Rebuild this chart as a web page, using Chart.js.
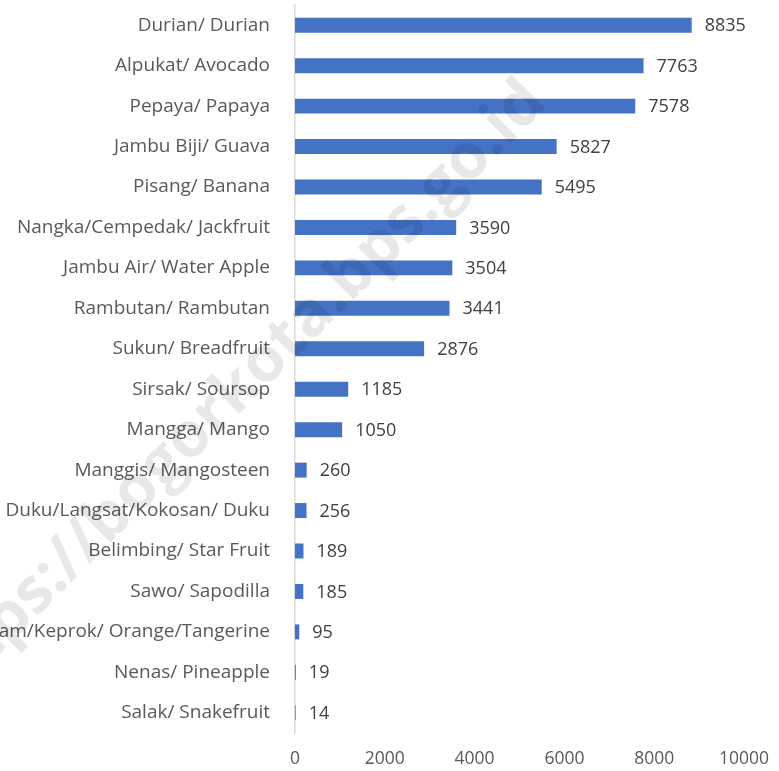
<!DOCTYPE html>
<html>
<head>
<meta charset="utf-8">
<script src="https://cdn.jsdelivr.net/npm/chart.js@4"></script>
<style>
  html, body { margin: 0; padding: 0; background: #fff; }
  #wrap { width: 779px; height: 771px; }
</style>
</head>
<body>
<div id="wrap"><canvas id="myChart"></canvas></div>
<script>
// data
const fruits = [
  'Durian/ Durian', 'Alpukat/ Avocado', 'Pepaya/ Papaya', 'Jambu Biji/ Guava',
  'Pisang/ Banana', 'Nangka/Cempedak/ Jackfruit', 'Jambu Air/ Water Apple',
  'Rambutan/ Rambutan', 'Sukun/ Breadfruit', 'Sirsak/ Soursop', 'Mangga/ Mango',
  'Manggis/ Mangosteen', 'Duku/Langsat/Kokosan/ Duku', 'Belimbing/ Star Fruit',
  'Sawo/ Sapodilla', 'Jeruk Siam/Keprok/ Orange/Tangerine', 'Nenas/ Pineapple',
  'Salak/ Snakefruit'
];
const production = [8835, 7763, 7578, 5827, 5495, 3590, 3504, 3441, 2876, 1185, 1050, 260, 256, 189, 185, 95, 19, 14];
const xTicks = [0, 2000, 4000, 6000, 8000, 10000];
const watermark = 'https://bogorkota.bps.go.id';

const fontFam = '"Open Sans", "Noto Sans", sans-serif';

// value labels at the end of each bar
const valueLabels = {
  id: 'valueLabels',
  afterDatasetsDraw(chart) {
    const ctx = chart.ctx;
    const meta = chart.getDatasetMeta(0);
    ctx.save();
    ctx.font = '18px ' + fontFam;
    ctx.fillStyle = '#404040';
    ctx.textAlign = 'left';
    ctx.textBaseline = 'middle';
    meta.data.forEach((bar, i) => {
      ctx.fillText(production[i], bar.x + 13, bar.y + 1);
    });
    ctx.restore();
  }
};

// faint diagonal watermark
const waterMark = {
  id: 'waterMark',
  afterDraw(chart) {
    const ctx = chart.ctx;
    ctx.save();
    ctx.translate(536, 92);
    ctx.rotate(-Math.PI / 4);
    ctx.font = 'bold 63px ' + fontFam;
    ctx.fillStyle = 'rgba(0,0,0,0.09)';
    ctx.textAlign = 'right';
    ctx.textBaseline = 'middle';
    ctx.fillText(watermark, 0, 0);
    ctx.restore();
  }
};

const ctx = document.getElementById('myChart');

new Chart(ctx, {
  type: 'bar',
  data: {
    labels: fruits,
    datasets: [{
      data: production,
      backgroundColor: '#4472c4',
      borderWidth: 0,
      categoryPercentage: 1,
      barPercentage: 0.37
    }]
  },
  options: {
    indexAxis: 'y',
    responsive: true,
    maintainAspectRatio: false,
    animation: false,
    layout: { padding: { top: 5, right: 35, bottom: 0, left: 0 } },
    plugins: {
      legend: { display: false },
      tooltip: { enabled: false }
    },
    scales: {
      x: {
        min: 0,
        max: 10000,
        afterBuildTicks: (scale) => { scale.ticks = xTicks.map(v => ({ value: v })); },
        afterFit: (scale) => {
          scale.height = 38;
          scale.paddingLeft = 0;
          scale.paddingRight = 0;
        },
        grid: { display: false, drawTicks: false },
        border: { display: false },
        ticks: {
          padding: 16,
          color: '#595959',
          callback: (v) => String(v),
          font: { family: fontFam, size: 17.5 }
        }
      },
      y: {
        afterFit: (scale) => {
          scale.width = 295;
          scale.paddingTop = 0;
          scale.paddingBottom = 0;
        },
        grid: { display: false, drawTicks: false },
        border: { display: true, color: '#d9d9d9', width: 1.5 },
        ticks: {
          padding: 25,
          autoSkip: false,
          color: '#595959',
          font: { family: fontFam, size: 19 }
        }
      }
    }
  },
  plugins: [valueLabels, waterMark]
});
</script>
</body>
</html>
